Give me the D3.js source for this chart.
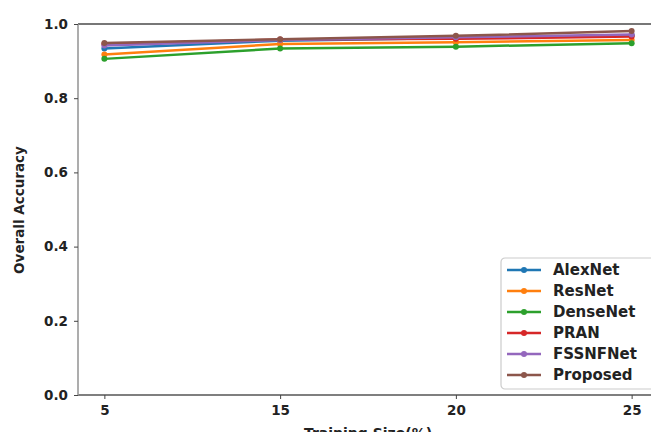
<!DOCTYPE html>
<html>
<head>
<meta charset="utf-8">
<script src="https://cdn.jsdelivr.net/npm/d3@7"></script>
<style>
  body { margin: 0; background: #fff; }
  text { font-family: "DejaVu Sans", sans-serif; font-weight: bold; }
</style>
</head>
<body>
<svg id="chart" width="651" height="432"></svg>
<script>
const trainingSizes = ["5", "15", "20", "25"];
const seriesNames = ["AlexNet", "ResNet", "DenseNet", "PRAN", "FSSNFNet", "Proposed"];
const alexNet  = [0.934, 0.955, 0.962, 0.970];
const resNet   = [0.918, 0.946, 0.951, 0.957];
const denseNet = [0.906, 0.934, 0.939, 0.948];
const pran     = [0.946, 0.958, 0.960, 0.966];
const fssnfNet = [0.942, 0.957, 0.964, 0.972];
const proposed = [0.949, 0.959, 0.968, 0.981];
const yTicks = [0.0, 0.2, 0.4, 0.6, 0.8, 1.0];

const allValues = [alexNet, resNet, denseNet, pran, fssnfNet, proposed];
const colors = ["#1f77b4", "#ff7f0e", "#2ca02c", "#d62728", "#9467bd", "#8c564b"];

const svg = d3.select("#chart");
const margin = { top: 24, right: -7, bottom: 37, left: 78 };
const width = +svg.attr("width") - margin.left - margin.right;
const height = +svg.attr("height") - margin.top - margin.bottom;

const chart = svg.append("g").attr("transform", `translate(${margin.left},${margin.top})`);

const x = d3.scalePoint().domain(trainingSizes).range([0, width]).padding(0.15);
const y = d3.scaleLinear().domain([0, 1]).range([height, 0]);

// frame
chart.append("line").attr("x1", 0).attr("x2", width).attr("y1", 0).attr("y2", 0)
    .attr("stroke", "#777").attr("stroke-width", 2.2);
chart.append("line").attr("x1", 0).attr("x2", width).attr("y1", height).attr("y2", height)
    .attr("stroke", "#555").attr("stroke-width", 1.3);
chart.append("line").attr("x1", 0).attr("x2", 0).attr("y1", 0).attr("y2", height)
    .attr("stroke", "#999").attr("stroke-width", 1.6);

const xAxis = chart.append("g").attr("transform", `translate(0,${height})`)
    .call(d3.axisBottom(x).tickSize(4).tickPadding(6));
const yAxis = chart.append("g")
    .call(d3.axisLeft(y).tickValues(yTicks).tickFormat(d3.format(".1f")).tickSize(4).tickPadding(6));
[xAxis, yAxis].forEach(a => {
    a.select(".domain").remove();
    a.selectAll(".tick line").attr("stroke", "#444");
    a.selectAll(".tick text").attr("fill", "#222").style("font-size", "13.5px");
});

// axis titles
svg.append("text")
    .attr("x", margin.left + x("15") + (x("20") - x("15")) / 2)
    .attr("y", 438)
    .attr("text-anchor", "middle")
    .style("font-size", "14px")
    .attr("fill", "#222")
    .text("Training Size(%)");
svg.append("text")
    .attr("transform", "translate(24,210) rotate(-90)")
    .attr("text-anchor", "middle")
    .style("font-size", "13.5px")
    .attr("fill", "#222")
    .text("Overall Accuracy");

const line = d3.line().x((d, i) => x(trainingSizes[i])).y(d => y(d));

allValues.forEach((vals, k) => {
    chart.append("path").datum(vals)
        .attr("fill", "none")
        .attr("stroke", colors[k])
        .attr("stroke-width", 2.5)
        .attr("d", line);
    chart.selectAll(null).data(vals).enter().append("circle")
        .attr("cx", (d, i) => x(trainingSizes[i]))
        .attr("cy", d => y(d))
        .attr("r", 3)
        .attr("fill", colors[k]);
});

// legend
const legend = svg.append("g").attr("transform", "translate(501,258)");
legend.append("rect")
    .attr("x", 0).attr("y", 0).attr("width", 160).attr("height", 131)
    .attr("rx", 4)
    .attr("fill", "#fff").attr("stroke", "#ccc").attr("stroke-width", 1.2);
seriesNames.forEach((name, k) => {
    const gy = 12 + k * 21;
    legend.append("line").attr("x1", 6).attr("x2", 40).attr("y1", gy).attr("y2", gy)
        .attr("stroke", colors[k]).attr("stroke-width", 2.5);
    legend.append("circle").attr("cx", 23).attr("cy", gy).attr("r", 3).attr("fill", colors[k]);
    legend.append("text").attr("x", 52).attr("y", gy + 5)
        .style("font-size", "15px").attr("fill", "#222").text(name);
});
</script>
</body>
</html>
